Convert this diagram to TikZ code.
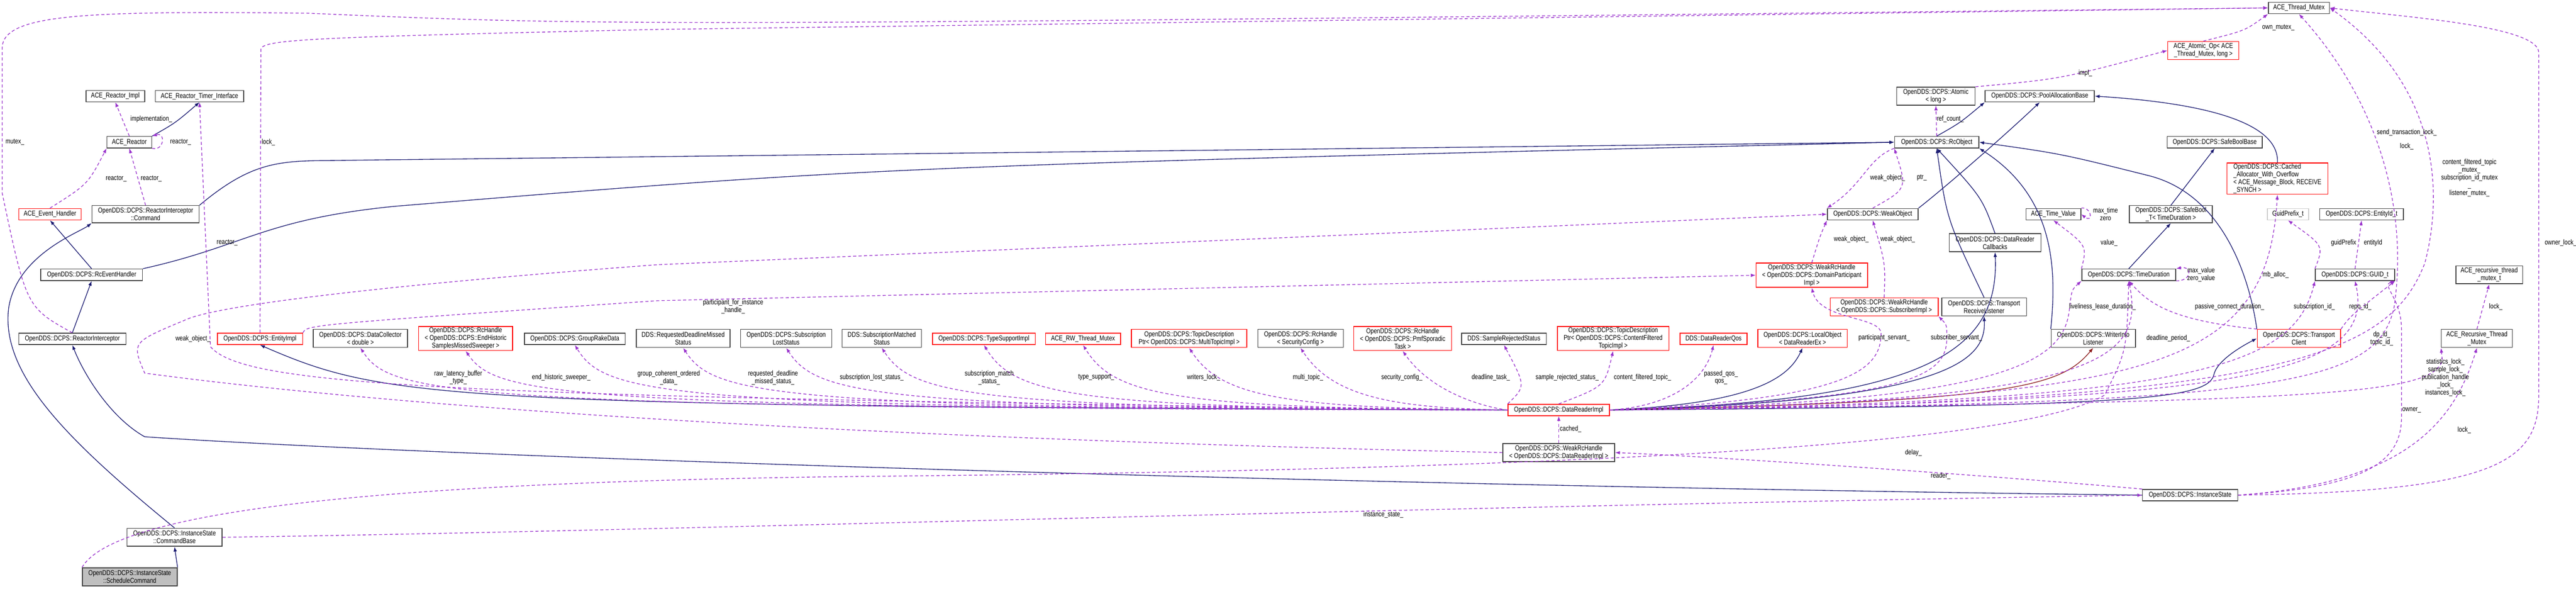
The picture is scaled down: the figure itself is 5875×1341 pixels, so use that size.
\documentclass[tikz,border=0pt]{standalone}
\usepackage{fontspec}
\setmainfont{Liberation Sans}[FakeStretch=0.8]
\usetikzlibrary{arrows.meta,positioning}
\definecolor{inhcol}{RGB}{25,25,112}
\definecolor{usecol}{RGB}{153,50,204}
\definecolor{tplcol}{RGB}{139,26,26}

\begin{document}
\begin{tikzpicture}[
            x=0.01cm, y=-0.01cm,
            every node/.style={font=\fontsize{4.6}{5}\selectfont},
            cls/.style={draw=black!75, line width=0.5pt, rectangle, fill=white, inner sep=0.5pt, align=center, minimum height=0.26cm},
            redcls/.style={cls, draw=red},
            curcls/.style={cls, fill=black!25},
            lbl/.style={inner sep=0pt, align=center},
            inh/.style={draw=inhcol, line width=0.45pt, -{Latex[length=1.1mm,width=0.8mm]}},
            use/.style={draw=usecol, line width=0.45pt, dashed, dash pattern=on 2pt off 1.5pt, -{Latex[length=1.1mm,width=0.8mm]}},
            tpl/.style={draw=tplcol, line width=0.45pt, -{Latex[length=1.1mm,width=0.8mm]}}
        ]
            \useasboundingbox (0,0) rectangle (5875,1341);

            % left part
            \node[cls, minimum width=1.34cm] (rimpl) at (263,219) {ACE\_Reactor\_Impl};
            \node[cls, minimum width=2.01cm] (rtimer) at (455,219) {ACE\_Reactor\_Timer\_Interface};
            \node[cls, minimum width=1.02cm] (reactor) at (295,324) {ACE\_Reactor};
            \node[redcls, minimum width=1.42cm] (evh) at (114,488) {ACE\_Event\_Handler};
            \node[cls, minimum width=2.44cm, minimum height=0.39cm] (cmd) at (332,488) {OpenDDS::DCPS::ReactorInterceptor\\::Command};
            \node[cls, minimum width=2.32cm] (rceh) at (209,626) {OpenDDS::DCPS::RcEventHandler};
            \node[cls, minimum width=2.44cm] (rint) at (165,772) {OpenDDS::DCPS::ReactorInterceptor};
            \node[cls, minimum width=2.17cm, minimum height=0.41cm] (cbase) at (398,1224) {OpenDDS::DCPS::InstanceState\\::CommandBase};
            \node[curcls, minimum width=2.16cm, minimum height=0.41cm] (sched) at (296,1314) {OpenDDS::DCPS::InstanceState\\::ScheduleCommand};

            % row of members
            \node[redcls, minimum width=1.94cm] (entity) at (593,772) {OpenDDS::DCPS::EntityImpl};
            \node[cls, minimum width=2.15cm, minimum height=0.41cm] (dcoll) at (822,771) {OpenDDS::DCPS::DataCollector\\< double >};
            \node[redcls, minimum width=2.14cm, minimum height=0.55cm] (rcend) at (1062,771) {OpenDDS::DCPS::RcHandle\\< OpenDDS::DCPS::EndHistoric\\SamplesMissedSweeper >};
            \node[cls, minimum width=2.30cm] (grake) at (1311,772) {OpenDDS::DCPS::GroupRakeData};
            \node[cls, minimum width=2.14cm, minimum height=0.41cm] (rdms) at (1558,771) {DDS::RequestedDeadlineMissed\\Status};
            \node[cls, minimum width=2.08cm, minimum height=0.41cm] (slost) at (1793,771) {OpenDDS::DCPS::Subscription\\LostStatus};
            \node[cls, minimum width=1.81cm, minimum height=0.41cm] (smatch) at (2011,771) {DDS::SubscriptionMatched\\Status};
            \node[redcls, minimum width=2.34cm] (tsi) at (2244,772) {OpenDDS::DCPS::TypeSupportImpl};
            \node[redcls, minimum width=1.71cm] (rwmtx) at (2470,772) {ACE\_RW\_Thread\_Mutex};
            \node[redcls, minimum width=2.63cm, minimum height=0.41cm] (tdmulti) at (2712,771) {OpenDDS::DCPS::TopicDescription\\Ptr< OpenDDS::DCPS::MultiTopicImpl >};
            \node[cls, minimum width=1.95cm, minimum height=0.41cm] (rcsec) at (2966,771) {OpenDDS::DCPS::RcHandle\\< SecurityConfig >};
            \node[redcls, minimum width=2.23cm, minimum height=0.55cm] (rcpmf) at (3199,771) {OpenDDS::DCPS::RcHandle\\< OpenDDS::DCPS::PmfSporadic\\Task >};
            \node[cls, minimum width=1.93cm] (srej) at (3430,772) {DDS::SampleRejectedStatus};
            \node[redcls, minimum width=2.54cm, minimum height=0.55cm] (tdcft) at (3679,771) {OpenDDS::DCPS::TopicDescription\\Ptr< OpenDDS::DCPS::ContentFiltered\\TopicImpl >};
            \node[redcls, minimum width=1.53cm] (drqos) at (3908,772) {DDS::DataReaderQos};
            \node[redcls, minimum width=2.04cm, minimum height=0.41cm] (lobj) at (4111,771) {OpenDDS::DCPS::LocalObject\\< DataReaderEx >};

            % reader
            \node[redcls, minimum width=2.31cm] (dri) at (3555,934) {OpenDDS::DCPS::DataReaderImpl};
            \node[cls, minimum width=2.55cm, minimum height=0.41cm] (wrdri) at (3555,1031) {OpenDDS::DCPS::WeakRcHandle\\< OpenDDS::DCPS::DataReaderImpl >};
            \node[cls, minimum width=2.17cm] (ist) at (4995,1128) {OpenDDS::DCPS::InstanceState};

            % right part
            \node[cls, minimum width=1.39cm] (tmtx) at (5243,18) {ACE\_Thread\_Mutex};
            \node[redcls, minimum width=1.62cm, minimum height=0.41cm] (atomop) at (5025,115) {ACE\_Atomic\_Op< ACE\\\_Thread\_Mutex, long >};
            \node[cls, minimum width=1.79cm, minimum height=0.41cm] (atomic) at (4415,219) {OpenDDS::DCPS::Atomic\\< long >};
            \node[cls, minimum width=2.49cm] (pool) at (4652,219) {OpenDDS::DCPS::PoolAllocationBase};
            \node[cls, minimum width=1.92cm] (rcobj) at (4417,324) {OpenDDS::DCPS::RcObject};
            \node[cls, minimum width=2.17cm] (sbb) at (5051,324) {OpenDDS::DCPS::SafeBoolBase};
            \node[redcls, minimum width=2.30cm, minimum height=0.70cm, align=left] (cache) at (5194,407) {OpenDDS::DCPS::Cached\\\_Allocator\_With\_Overflow\\< ACE\_Message\_Block, RECEIVE\\\_SYNCH >};
            \node[cls, minimum width=2.07cm] (weak) at (4271,488) {OpenDDS::DCPS::WeakObject};
            \node[cls, minimum width=1.25cm] (tval) at (4683,488) {ACE\_Time\_Value};
            \node[cls, minimum width=1.89cm, minimum height=0.39cm] (sbt) at (4951,488) {OpenDDS::DCPS::SafeBool\\\_T< TimeDuration >};
            \node[cls, draw=black!20, minimum width=0.94cm] (gpre) at (5218,488) {GuidPrefix\_t};
            \node[cls, minimum width=1.91cm] (eid) at (5386,488) {OpenDDS::DCPS::EntityId\_t};
            \node[cls, minimum width=2.09cm, minimum height=0.41cm] (drcb) at (4550,553) {OpenDDS::DCPS::DataReader\\Callbacks};
            \node[redcls, minimum width=2.54cm, minimum height=0.55cm] (wrdp) at (4132,627) {OpenDDS::DCPS::WeakRcHandle\\< OpenDDS::DCPS::DomainParticipant\\Impl >};
            \node[cls, minimum width=2.14cm] (tdur) at (4855,626) {OpenDDS::DCPS::TimeDuration};
            \node[cls, minimum width=1.81cm] (guid) at (5371,626) {OpenDDS::DCPS::GUID\_t};
            \node[cls, minimum width=1.52cm, minimum height=0.41cm] (rtm) at (5677,626) {ACE\_recursive\_thread\\\_mutex\_t};
            \node[redcls, minimum width=2.46cm, minimum height=0.41cm] (wrsub) at (4297,699) {OpenDDS::DCPS::WeakRcHandle\\< OpenDDS::DCPS::SubscriberImpl >};
            \node[cls, minimum width=1.93cm, minimum height=0.41cm] (rlist) at (4525,699) {OpenDDS::DCPS::Transport\\ReceiveListener};
            \node[cls, minimum width=1.92cm, minimum height=0.41cm] (wil) at (4774,771) {OpenDDS::DCPS::WriterInfo\\Listener};
            \node[redcls, minimum width=1.90cm, minimum height=0.41cm] (tcl) at (5243,771) {OpenDDS::DCPS::Transport\\Client};
            \node[cls, minimum width=1.62cm, minimum height=0.41cm] (rmtx) at (5649,771) {ACE\_Recursive\_Thread\\\_Mutex};

            % inheritance
            \draw[inh] (reactor.north east) .. controls (400,280) .. (rtimer.south);
            \draw[inh] (rceh.north) -- (evh.south);
            \draw[inh] (rint.north) -- (rceh.south);
            \draw[inh] (sched.north east) -- (cbase.south);
            \draw[inh] (cbase.north) .. controls (150,1000) and (0,850) .. (20,700) .. controls (40,580) and (180,530) .. (cmd.south west);
            \draw[inh] (cmd.north east) .. controls (560,380) and (620,368) .. (720,366) -- (rcobj.west);
            \draw[inh] (rceh.north east) .. controls (560,560) and (600,500) .. (900,470) .. controls (2000,380) .. (rcobj.west);
            \draw[inh] (ist.west) .. controls (3000,1105) and (1000,1040) .. (330,995) .. controls (250,950) and (190,850) .. (rint.south);
            \draw[inh] (dri.west) .. controls (1000,925) and (880,910) .. (entity.south);
            \draw[inh] (dri.east) .. controls (4000,920) and (4080,860) .. (lobj.south);
            \draw[inh] (dri.east) .. controls (4400,915) and (4560,800) .. (drcb.south);
            \draw[inh] (dri.east) .. controls (4450,915) and (4530,820) .. (rlist.south);
            \draw[tpl] (dri.east) .. controls (4600,915) and (4700,880) .. (wil.south);
            \draw[inh] (dri.east) .. controls (4900,925) and (5040,910) .. (5050,850) .. controls (5060,820) and (5110,790) .. (tcl.west);
            \draw[inh] (drcb.north) .. controls (4520,450) .. (rcobj.south);
            \draw[inh] (rlist.north) .. controls (4440,500) .. (rcobj.south);
            \draw[inh] (wil.north west) .. controls (4690,620) and (4690,450) .. (rcobj.south east);
            \draw[inh] (tcl.north west) .. controls (5140,700) and (5100,450) .. (4900,400) .. controls (4700,350) .. (rcobj.east);
            \draw[inh] (rcobj.north) .. controls (4470,280) .. (pool.south west);
            \draw[inh] (weak.north east) .. controls (4420,440) and (4560,320) .. (pool.south);
            \draw[inh] (cache.north) .. controls (5200,260) and (4950,230) .. (pool.east);
            \draw[inh] (sbt.north) -- (sbb.south);
            \draw[inh] (tdur.north) -- (sbt.south);

            % usage
            \draw[use] (reactor.north) -- (rimpl.south);
            \draw[use] (reactor.south east) .. controls (375,345) and (378,300) .. (reactor.north east);
            \draw[use] (evh.north) .. controls (200,420) .. (reactor.south west);
            \draw[use] (cmd.north) -- (reactor.south);
            \draw[use] (dri.west) .. controls (1000,905) and (560,880) .. (480,790) -- (rtimer.south);
            \draw[use] (rint.north) .. controls (60,700) .. (5,440) -- (5,110) .. controls (5,30) and (200,25) .. (700,30) .. controls (1400,60) .. (tmtx.west);
            \draw[use] (entity.north) -- (595,112) .. controls (600,90) and (700,85) .. (1500,67) -- (tmtx.west);
            \draw[use] (wrdri.west) .. controls (1600,990) and (700,900) .. (330,850) .. controls (300,780) .. (420,730) .. controls (500,690) and (1000,640) .. (1500,603) -- (weak.west);
            \draw[use] (entity.north east) .. controls (700,740) .. (1500,685) -- (wrdp.west);
            \foreach \n/\bx in {dcoll/822, rcend/1062, grake/1311, rdms/1558, slost/1793, smatch/2011, tsi/2244, rwmtx/2470, tdmulti/2712, rcsec/2966, rcpmf/3199}
                \draw[use] (dri.west) .. controls (\bx+200,930) and (\bx+70,900) .. (\n.south);
            \draw[use] (dri.north west) .. controls (3480,880) .. (srej.south);
            \draw[use] (dri.north) .. controls (3660,880) .. (tdcft.south);
            \draw[use] (dri.east) .. controls (3820,925) and (3890,860) .. (drqos.south);
            \draw[use] (dri.east) .. controls (4200,910) and (4290,850) .. (4290,760) .. controls (4290,720) and (4150,730) .. (wrdp.south);
            \draw[use] (dri.east) .. controls (4350,910) and (4440,860) .. (4440,770) .. controls (4440,740) .. (wrsub.south east);
            \draw[use] (wrdri.north) -- (dri.south);
            \draw[use] (wrdp.north) .. controls (4150,540) .. (weak.south west);
            \draw[use] (wrsub.north) .. controls (4300,600) .. (weak.south);
            \draw[use] (weak.north) .. controls (4350,430) .. (rcobj.south west);
            \draw[use] (rcobj.south west) .. controls (4260,360) and (4250,420) .. (weak.north west);
            \draw[use] (rcobj.north) -- (atomic.south);
            \draw[use] (atomic.north east) .. controls (4700,180) .. (atomop.west);
            \draw[use] (atomop.north) .. controls (5120,70) .. (tmtx.south west);
            \draw[use] (tdur.north west) .. controls (4760,560) .. (tval.south);
            \draw[use] (tval.north east) .. controls (4770,470) and (4775,510) .. (tval.east);
            \draw[use] (tdur.south east) .. controls (5000,640) and (5000,605) .. (tdur.north east);
            \draw[use] (guid.north west) .. controls (5300,560) .. (gpre.south);
            \draw[use] (guid.north) -- (eid.south);
            \draw[use] (rmtx.north) -- (rtm.south);
            \draw[use] (dri.east) .. controls (4600,915) and (4710,820) .. (4720,700) .. controls (4725,660) .. (tdur.south west);
            \draw[use] (dri.east) .. controls (4800,915) and (4890,820) .. (tdur.south);
            \draw[use] (tcl.north west) .. controls (4950,730) and (4900,690) .. (tdur.south);
            \draw[use] (dri.east) .. controls (4900,905) and (5170,850) .. (cache.south);
            \draw[use] (dri.east) .. controls (5000,915) and (5230,840) .. (guid.south west);
            \draw[use] (dri.east) .. controls (5100,915) and (5420,860) .. (guid.south);
            \draw[use] (tcl.north east) .. controls (5360,720) .. (guid.south east);
            \draw[use] (dri.east) .. controls (5300,915) and (5550,900) .. (5570,820) -- (rmtx.south west);
            \draw[use] (dri.east) .. controls (5200,920) and (5420,880) .. (5460,700) .. controls (5490,500) and (5440,250) .. (tmtx.south);
            \draw[use] (dri.east) .. controls (5250,920) and (5450,800) .. (5530,600) .. controls (5570,450) and (5570,200) .. (tmtx.east);
            \draw[use] (ist.east) .. controls (5700,1120) and (5790,1050) .. (5790,900) -- (5790,120) .. controls (5790,60) and (5500,40) .. (tmtx.east);
            \draw[use] (ist.east) .. controls (5400,1110) and (5477,1050) .. (5477,950) -- (5477,750) .. controls (5477,680) and (5430,650) .. (guid.south east);
            \draw[use] (ist.east) .. controls (5500,1100) and (5600,950) .. (rmtx.south);
            \draw[use] (ist.north west) .. controls (4500,1080) and (3900,1040) .. (wrdri.east);
            \draw[use] (cbase.east) .. controls (1500,1210) and (3000,1160) .. (ist.west);
            \draw[use] (sched.north west) .. controls (270,1150) and (1000,1095) .. (2000,1085) .. controls (3500,1070) and (4600,1020) .. (4800,900) .. controls (4850,800) .. (tdur.south);

            % labels
            \node[lbl] (limpl) at (345,271) {implementation\_};
            \node[lbl] (lself) at (412,324) {reactor\_};
            \node[lbl] (lreact1) at (265,407) {reactor\_};
            \node[lbl] (lreact2) at (345,407) {reactor\_};
            \node[lbl] (lreact3) at (518,553) {reactor\_};
            \node[lbl] (lmutex) at (34,324) {mutex\_};
            \node[lbl] (llock) at (612,324) {lock\_};
            \node[lbl] (lweak) at (440,772) {weak\_object\_};
            \node[lbl] (lpart) at (1672,698) {participant\_for\_instance\\\_handle\_};
            \node[lbl] (lraw) at (1045,860) {raw\_latency\_buffer\\\_type\_};
            \node[lbl] (lend) at (1280,860) {end\_historic\_sweeper\_};
            \node[lbl] (lgroup) at (1525,860) {group\_coherent\_ordered\\\_data\_};
            \node[lbl] (lreq) at (1763,860) {requested\_deadline\\\_missed\_status\_};
            \node[lbl] (llost) at (1988,860) {subscription\_lost\_status\_};
            \node[lbl] (lmatch) at (2256,860) {subscription\_match\\\_status\_};
            \node[lbl] (ltype) at (2500,860) {type\_support\_};
            \node[lbl] (lwlock) at (2745,860) {writers\_lock\_};
            \node[lbl] (lmulti) at (2983,860) {multi\_topic\_};
            \node[lbl] (lsec) at (3197,860) {security\_config\_};
            \node[lbl] (ldl) at (3400,860) {deadline\_task\_};
            \node[lbl] (lsrej) at (3574,860) {sample\_rejected\_status\_};
            \node[lbl] (lcft) at (3746,860) {content\_filtered\_topic\_};
            \node[lbl] (lqos) at (3925,860) {passed\_qos\_\\qos\_};
            \node[lbl] (lps) at (4297,770) {participant\_servant\_};
            \node[lbl] (lss) at (4462,770) {subscriber\_servant\_};
            \node[lbl] (lcached) at (3582,978) {cached\_};
            \node[lbl] (lwo1) at (4222,545) {weak\_object\_};
            \node[lbl] (lwo2) at (4328,545) {weak\_object\_};
            \node[lbl] (lwo3) at (4305,405) {weak\_object\_};
            \node[lbl] (lptr) at (4383,405) {ptr\_};
            \node[lbl] (lref) at (4448,271) {ref\_count\_};
            \node[lbl] (limpl2) at (4756,167) {impl\_};
            \node[lbl] (lown) at (5196,63) {own\_mutex\_};
            \node[lbl] (lsend) at (5489,318) {send\_transaction\_lock\_\\[4pt]lock\_};
            \node[lbl] (lcftm) at (5632,405) {content\_filtered\_topic\\\_mutex\_\\subscription\_id\_mutex\\\_\\listener\_mutex\_};
            \node[lbl] (lmaxt) at (4802,488) {max\_time\\zero};
            \node[lbl] (lval) at (4810,553) {value\_};
            \node[lbl] (lmaxv) at (5020,626) {max\_value\\zero\_value};
            \node[lbl] (lgp) at (5345,553) {guidPrefix};
            \node[lbl] (leid) at (5412,553) {entityId};
            \node[lbl] (lmb) at (5190,626) {mb\_alloc\_};
            \node[lbl] (lowl) at (5840,553) {owner\_lock\_};
            \node[lbl] (lrlock) at (5692,699) {lock\_};
            \node[lbl] (llive) at (4795,699) {liveliness\_lease\_duration\_};
            \node[lbl] (lpass) at (5085,699) {passive\_connect\_duration\_};
            \node[lbl] (lsub) at (5278,699) {subscription\_id\_};
            \node[lbl] (lrepo) at (5383,699) {repo\_id\_};
            \node[lbl] (ldead) at (4945,771) {deadline\_period\_};
            \node[lbl] (ldp) at (5432,771) {dp\_id\_\\topic\_id\_};
            \node[lbl] (lstat) at (5577,860) {statistics\_lock\_\\sample\_lock\_\\publication\_handle\\\_lock\_\\instances\_lock\_};
            \node[lbl] (lowner) at (5500,934) {owner\_};
            \node[lbl] (llock2) at (5620,980) {lock\_};
            \node[lbl] (ldelay) at (4364,1031) {delay\_};
            \node[lbl] (lreader) at (4426,1084) {reader\_};
            \node[lbl] (linst) at (3155,1172) {instance\_state\_};
        \end{tikzpicture}
\end{document}
